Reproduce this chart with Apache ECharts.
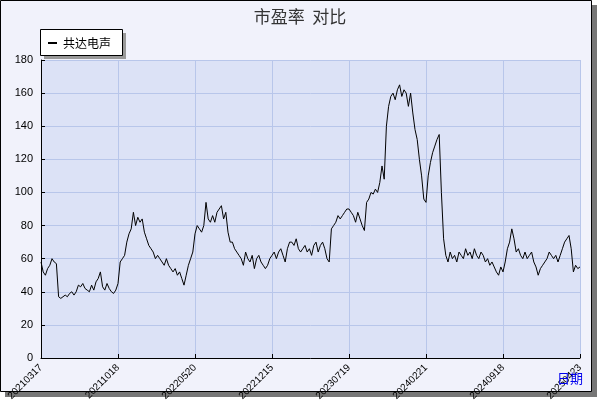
<!DOCTYPE html>
<html><head><meta charset="utf-8">
<script src="https://cdn.jsdelivr.net/npm/echarts@6/dist/echarts.min.js"></script>
<style>html,body{margin:0;padding:0;background:#fff}#c{width:600px;height:400px}</style>
</head><body><div id="c"></div>
<script>
const tickLabels = ['20210317','20211018','20220520','20221215','20230719','20240221','20240918','20250423'];
const seriesName = '共达电声';
const seg1 = [58,52,50,54,56,60,58,57,37,36,37,38,37,39,40,38,40,44,43,45,42,41,40,44,41,46,48,52,43,41,45,42,40,39,41];
const seg2 = [45,58,60,62,70,75,78,88,80,85,82,84,76,72,68,66,64,60,62,60,58,56,60,56,54,52,54,50,52,48,44,50,56,60,64];
const seg3 = [75,80,78,76,80,94,84,82,86,82,88,90,92,84,88,76,70,70,66,64,62,60,56,64,60,58,62,54,60,62,58,56,54,56,60];
const seg4 = [62,64,60,64,66,62,58,66,70,70,68,72,66,64,66,68,64,66,62,68,70,64,68,70,66,60,58,78,80,82,86,84,86,88,90];
const seg5 = [90,88,86,82,88,84,80,77,94,96,100,99,102,100,106,116,108,140,152,158,160,156,162,165,158,162,160,152,160,148,138,132,120,110,96];
const seg6 = [94,110,118,124,128,132,135,100,72,62,58,64,60,62,58,64,62,60,66,62,64,60,66,62,60,64,62,58,60,56,58,55,52,50,55];
const seg7 = [52,58,66,70,78,72,64,66,62,60,64,60,62,64,58,55,50,54,56,58,60,64,62,60,62,58,62,66,70,72,74,66,52,56,54,55];
const values = [].concat(seg1,seg2,seg3,seg4,seg5,seg6,seg7);
const STEP = 35;
const cats = values.map((v,i)=>String(i));
const chart = echarts.init(document.getElementById('c'));
chart.setOption({
  backgroundColor:'#ffffff',
  graphic:[
    {type:'rect',shape:{x:5,y:5,width:592,height:392},style:{fill:'#777'},z:-10},
    {type:'rect',shape:{x:0.5,y:0.5,width:591,height:391},style:{fill:'#f1f2fb',stroke:'#000',lineWidth:1},z:-9},
    {type:'rect',shape:{x:44,y:33,width:82,height:26},style:{fill:'#999'},z:5},
    {type:'rect',shape:{x:40.5,y:29.5,width:82,height:26},style:{fill:'#fff',stroke:'#000',lineWidth:1},z:6},
    {type:'line',shape:{x1:48,y1:43,x2:57,y2:43},style:{stroke:'#000',lineWidth:2},z:7},
    {type:'text',style:{x:63,y:43,text:seriesName,fill:'#000',font:'12px "Noto Sans CJK SC"',textVerticalAlign:'middle'},z:7},
    {type:'text',style:{x:557,y:378,text:'日期',fill:'#0000ee',font:'13px "Noto Sans CJK SC"',textVerticalAlign:'middle'},z:7}
  ],
  title:{text:'市盈率  对比',left:'center',top:3,textStyle:{fontSize:17,fontWeight:'normal',color:'#333',fontFamily:'Noto Sans CJK SC'}},
  grid:{left:41,right:20,top:60,bottom:42,containLabel:false,outerBoundsMode:'none',show:true,backgroundColor:'#dce2f6',borderWidth:0},
  xAxis:{type:'category',data:cats,boundaryGap:false,
    axisLine:{lineStyle:{color:'#000'}},
    axisTick:{interval:STEP-1,length:4,inside:true,lineStyle:{color:'#000'}},
    axisLabel:{interval:STEP-1,rotate:45,fontSize:10,color:'#000',margin:8,
      formatter:(v,i)=>tickLabels[Math.round(i/STEP)]||''},
    splitLine:{show:true,interval:STEP-1,lineStyle:{color:'#b8c6ea'}}},
  yAxis:{type:'value',min:0,max:180,interval:20,
    axisLine:{show:true,lineStyle:{color:'#000'}},
    axisTick:{show:true,inside:true,length:4,lineStyle:{color:'#000'}},
    axisLabel:{fontSize:11,color:'#000'},
    splitLine:{lineStyle:{color:'#b8c6ea'}}},
  series:[{name:seriesName,type:'line',data:values,showSymbol:false,lineStyle:{color:'#000',width:1},animation:false}]
});
</script></body></html>
